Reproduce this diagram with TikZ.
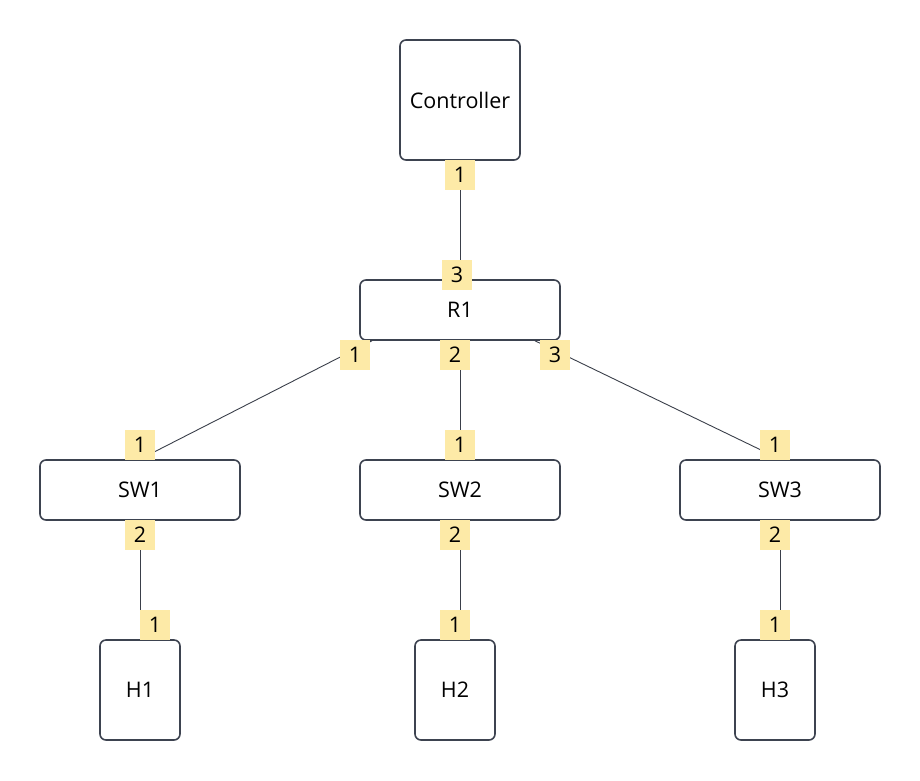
\documentclass[tikz,border=0pt]{standalone}
\usepackage{fontspec}
\setmainfont{Open Sans}
\definecolor{edgec}{HTML}{3D4350}
\definecolor{linec}{HTML}{3A3F4A}
\definecolor{portc}{HTML}{FDEAA7}
\begin{document}
\begin{tikzpicture}[x=1pt,y=-1pt,
  dev/.style={draw=edgec, line width=1.6pt, rounded corners=6pt, fill=white,
    inner sep=0pt, font=\fontsize{21.5}{25}\selectfont},
  wide/.style={dev, minimum width=200pt, minimum height=60pt},
  host/.style={dev, minimum width=80pt, minimum height=100pt},
  port/.style={fill=portc, minimum size=30pt, inner sep=0pt,
    font=\fontsize{21.5}{25}\selectfont},
  link/.style={draw=linec, line width=0.9pt}]
\useasboundingbox (0,0) rectangle (920,780);

% devices
\node[dev, minimum width=120pt, minimum height=120pt] (ctrl) at (460,100) {Controller};
\node[wide] (r1)  at (460,310) {R1};
\node[wide] (sw1) at (140,490) {SW1};
\node[wide] (sw2) at (460,490) {SW2};
\node[wide] (sw3) at (780,490) {SW3};
\node[host] (h1) at (140,690) {H1};
\node[host] (h2) at (455,690) {H2};
\node[host] (h3) at (775,690) {H3};

% attachment points on R1 for the slanted links
\coordinate (r1l) at ([xshift=-88pt]r1.south);
\coordinate (r1r) at ([xshift=75pt]r1.south);

% links
\draw[link] (ctrl.south) -- (r1.north);
\draw[link] (r1l) -- (sw1.north);
\draw[link] (r1.south) -- (sw2.north);
\draw[link] (r1r) -- (sw3.north);
\draw[link] (sw1.south) -- (sw1.south |- h1.north);
\draw[link] (sw2.south) -- (sw2.south |- h2.north);
\draw[link] (sw3.south) -- (sw3.south |- h3.north);

% port numbers
\node[port] (ctrlp1) at (460,175) {1};
\node[port] (r1p3t)  at (457,275) {3};
\node[port] (r1p1)   at (355,355) {1};
\node[port] (r1p2)   at (455,355) {2};
\node[port] (r1p3)   at (555,355) {3};
\node[port] (sw1p1)  at (140,445) {1};
\node[port] (sw1p2)  at (140,535) {2};
\node[port] (sw2p1)  at (460,445) {1};
\node[port] (sw2p2)  at (455,535) {2};
\node[port] (sw3p1)  at (775,445) {1};
\node[port] (sw3p2)  at (775,535) {2};
\node[port] (h1p1)   at (155,625) {1};
\node[port] (h2p1)   at (455,625) {1};
\node[port] (h3p1)   at (775,625) {1};
\end{tikzpicture}
\end{document}
